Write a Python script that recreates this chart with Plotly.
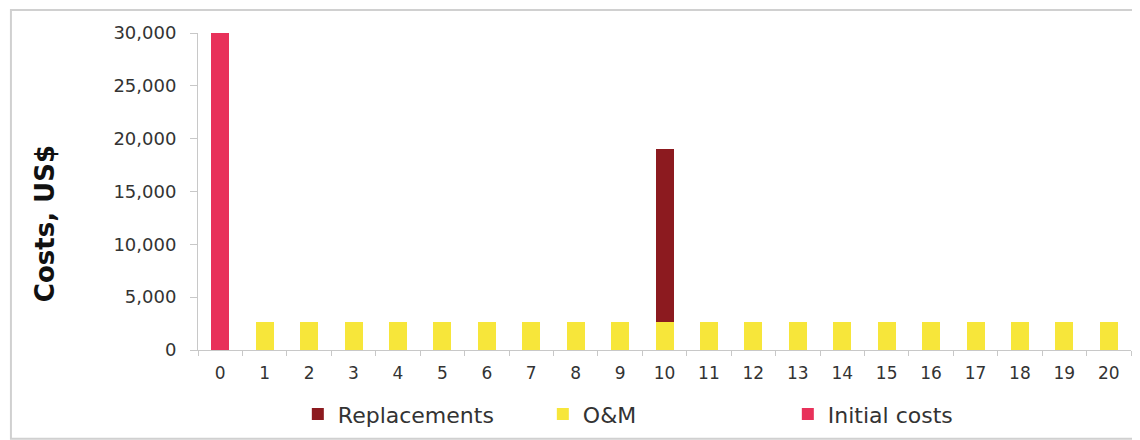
import plotly.graph_objects as go

years = [str(y) for y in range(0, 21)]
initial_costs = [30000, 0, 0, 0, 0, 0, 0, 0, 0, 0, 0, 0, 0, 0, 0, 0, 0, 0, 0, 0, 0]
om_costs = [0, 2650, 2650, 2650, 2650, 2650, 2650, 2650, 2650, 2650, 2650,
            2650, 2650, 2650, 2650, 2650, 2650, 2650, 2650, 2650, 2650]
replacements = [0, 0, 0, 0, 0, 0, 0, 0, 0, 0, 16350, 0, 0, 0, 0, 0, 0, 0, 0, 0, 0]

font_main = 'DejaVu Sans'

fig = go.Figure()

# O&M at the bottom of the stack, replacements on top
fig.add_trace(go.Bar(
    x=years, y=om_costs, name='O&M',
    marker=dict(color='#f7e63a', line_width=0),
    legendrank=2,
))
fig.add_trace(go.Bar(
    x=years, y=replacements, name='Replacements',
    marker=dict(color='#8c1a1f', line_width=0),
    legendrank=1,
))
fig.add_trace(go.Bar(
    x=years, y=initial_costs, name='Initial costs',
    marker=dict(color='#e8315a', line_width=0),
    legendrank=3,
))

# outer frame of the picture
fig.add_shape(type='rect', xref='paper', yref='paper',
              x0=-0.2005, x1=1.05, y0=-0.28, y1=1.0726,
              line=dict(color='#d0d0d0', width=2), layer='below')

fig.add_annotation(
    text='<b>Costs, US$</b>', textangle=-90,
    xref='paper', yref='paper', x=-0.164, y=0.40,
    xanchor='center', yanchor='middle',
    showarrow=False,
    font=dict(family='DejaVu Sans', size=26, color='#111'),
)

# page body has an 8px margin, so the figure is 8px smaller than the window
fig.update_layout(
    barmode='stack',
    bargap=0.595,
    width=1132, height=432,
    margin=dict(l=190, r=9, t=25, b=90, autoexpand=False),
    paper_bgcolor='white',
    plot_bgcolor='white',
    font=dict(family=font_main, color='#333'),
    showlegend=True,
    legend=dict(
        orientation='h', x=0.107, xanchor='left', y=-0.136, yanchor='top',
        font=dict(size=22, color='#333'),
        entrywidth=200, entrywidthmode='pixels',
        traceorder='normal',
        bgcolor='rgba(0,0,0,0)',
    ),
    xaxis=dict(
        type='category',
        tickson='boundaries',
        ticks='outside', ticklen=5, tickcolor='#c8c8c8',
        ticklabelstandoff=8,
        showline=True, linecolor='#c8c8c8', linewidth=1,
        showgrid=False,
        tickfont=dict(size=17, color='#333'),
    ),
    yaxis=dict(
        range=[0, 30000],
        tickvals=[0, 5000, 10000, 15000, 20000, 25000, 30000],
        tickformat=',d',
        ticks='outside', ticklen=7, tickcolor='#c8c8c8',
        ticklabelstandoff=10,
        showline=True, linecolor='#c8c8c8', linewidth=1,
        showgrid=False, zeroline=False,
        tickfont=dict(size=18, color='#333'),
    ),
)

fig.write_html("out.html")
